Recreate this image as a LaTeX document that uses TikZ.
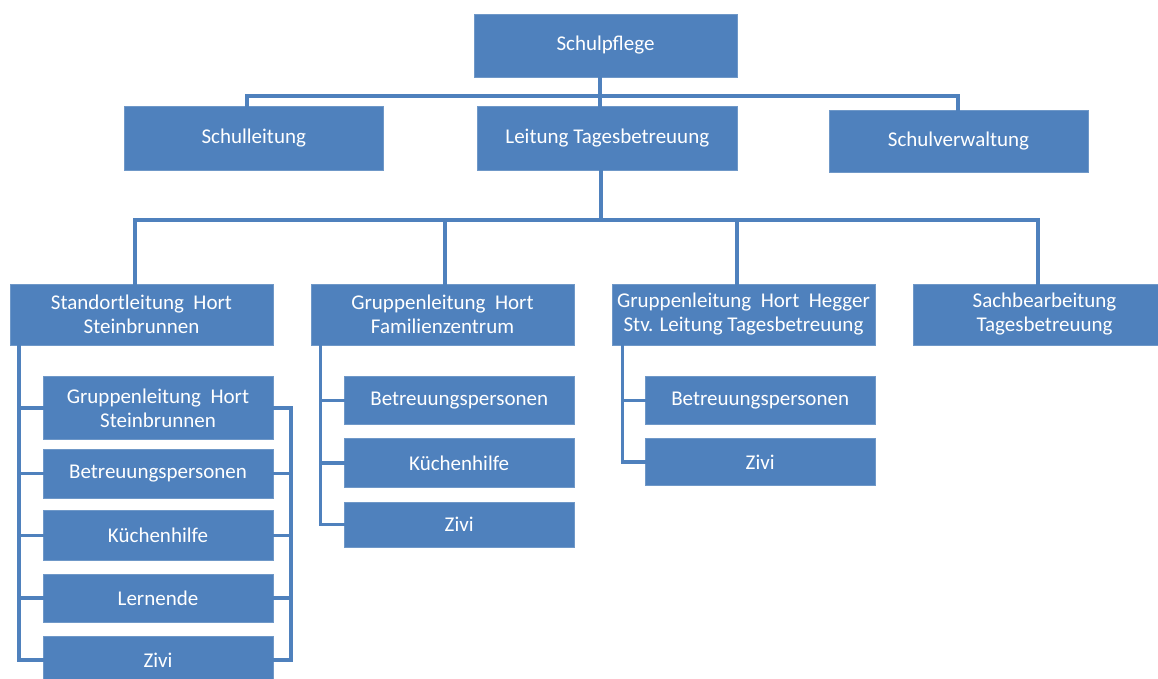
\documentclass[tikz,border=0pt]{standalone}
\usepackage{fontspec}
\setmainfont{Carlito}
\definecolor{boxblue}{HTML}{4F81BD}
\definecolor{edgeblue}{HTML}{6F98C8}
\begin{document}
\begin{tikzpicture}[x=1pt,y=-1pt,
  box/.style={rectangle, fill=boxblue, draw=edgeblue, line width=0.8pt, text=white,
    font=\fontsize{21}{24}\selectfont, align=center, inner sep=0pt},
  conn/.style={draw=boxblue, line width=3.2pt, line cap=rect}]
\useasboundingbox[fill=white] (0,0) rectangle (1158,679);
\coordinate (b1) at (600,96);
\coordinate (b2) at (601,220);
% top level boxes
\node[box, minimum width=263, minimum height=63] (sp) at (605.5,45.5) {Schulpflege};
\node[box, minimum width=259.5, minimum height=64] (sl) at (253.75,138) {Schulleitung};
\node[box, minimum width=259.4, minimum height=64] (ltb) at (607.3,138) {Leitung Tagesbetreuung};
\node[box, minimum width=259, minimum height=61.3] (sv) at (958.5,141.35) {Schulverwaltung};
% second level
\node[box, minimum width=263, minimum height=61] (st) at (141.5,314.5) {Standortleitung\ \ Hort\\Steinbrunnen};
\node[box, minimum width=263, minimum height=61] (fz) at (442.5,314.5) {Gruppenleitung\ \ Hort\\Familienzentrum};
\node[box, minimum width=263, minimum height=61] (hg) at (743.5,314.5) {Gruppenleitung\ \ Hort\ \ Hegger\\Stv. Leitung Tagesbetreuung};
\node[box, minimum width=263, minimum height=61] (sb) at (1044.5,314.5) {Sachbearbeitung\\Tagesbetreuung};
% Steinbrunnen children
\node[box, minimum width=230, minimum height=62.6] (st1) at (158,408) {Gruppenleitung\ \ Hort\\Steinbrunnen};
\node[box, minimum width=230, minimum height=49.7] (st2) at (158,473.85) {Betreuungspersonen};
\node[box, minimum width=230, minimum height=49.6] (st3) at (158,535.5) {Küchenhilfe};
\node[box, minimum width=230, minimum height=48] (st4) at (158,598) {Lernende};
\node[box, minimum width=230, minimum height=48] (st5) at (158,660) {Zivi};
% Familienzentrum children
\node[box, minimum width=229.6, minimum height=47.3] (fz1) at (459.2,400.35) {Betreuungspersonen};
\node[box, minimum width=229.6, minimum height=49.4] (fz2) at (459.2,463) {Küchenhilfe};
\node[box, minimum width=229.6, minimum height=45.3] (fz3) at (459.2,524.65) {Zivi};
% Hegger children
\node[box, minimum width=230.3, minimum height=47.3] (hg1) at (760.15,400.35) {Betreuungspersonen};
\node[box, minimum width=230.3, minimum height=47.4] (hg2) at (760.15,462) {Zivi};
% connectors
\draw[conn] (sp.south -| b1) -- (ltb.north -| b1);
\draw[conn] ([xshift=-6.75pt]sl.north) |- (b1) -| ([xshift=-0.5pt]sv.north);
\draw[conn] (ltb.south -| b2) -- (b2);
\draw[conn] ([xshift=-6.5pt]st.north) |- (b2) -| ([xshift=-6.5pt]hg.north);
\draw[conn] ([xshift=2.5pt]fz.north) -- ([xshift=2.5pt]fz.north |- b2);
\draw[conn] ([xshift=-6.5pt]sb.north) |- (b2);
% Steinbrunnen left bracket
\coordinate (stl) at (19,0);
\draw[conn] (st.south -| stl) |- (st5.west);
\foreach \c in {st1,st2,st3,st4} \draw[conn] (\c.west -| stl) -- (\c.west);
% Steinbrunnen right bracket
\coordinate (str) at (291,0);
\draw[conn] (st1.east) -| (st5.east -| str) -- (st5.east);
\foreach \c in {st2,st3,st4} \draw[conn] (\c.east) -- (\c.east -| str);
% Familienzentrum bracket
\coordinate (fzl) at (320.7,0);
\draw[conn] (fz.south -| fzl) |- (fz3.west);
\foreach \c in {fz1,fz2} \draw[conn] (\c.west -| fzl) -- (\c.west);
% Hegger bracket
\coordinate (hgl) at (622.3,0);
\draw[conn] (hg.south -| hgl) |- (hg2.west);
\draw[conn] (hg1.west -| hgl) -- (hg1.west);
\end{tikzpicture}
\end{document}
